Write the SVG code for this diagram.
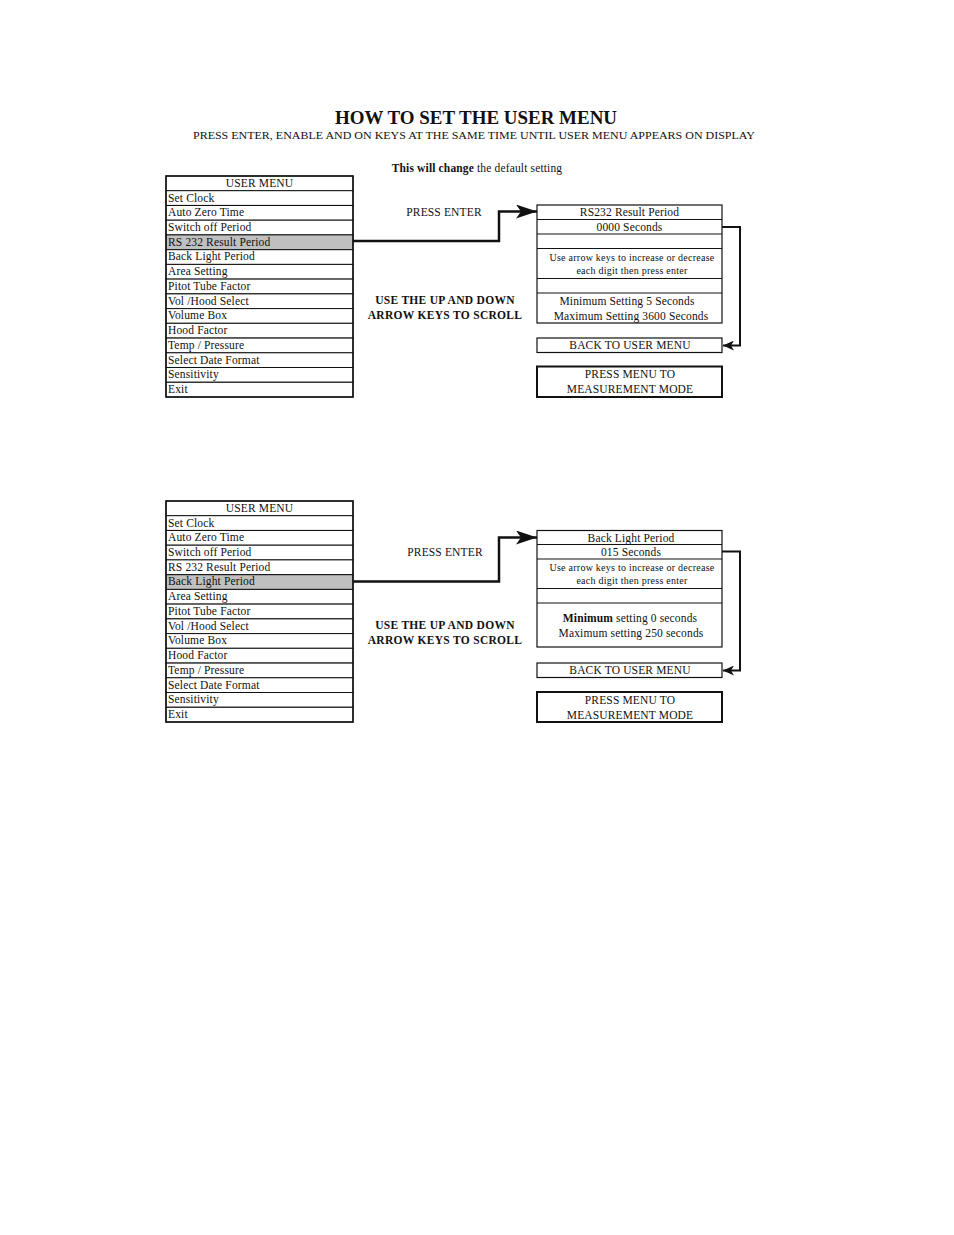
<svg xmlns="http://www.w3.org/2000/svg" width="954" height="1235" viewBox="0 0 954 1235">
<style>
text{font-family:"Liberation Serif","Times New Roman",serif;fill:#111}
.t{font-size:11.5px;letter-spacing:0.15px}
.c{text-anchor:middle}
.s{font-size:10px;letter-spacing:0.25px}
.b{font-weight:bold}
.bb{font-weight:bold;letter-spacing:0.3px}
.row{fill:#fff;stroke:#111;stroke-width:1}
.hl{fill:#c0c0c0;stroke:#111;stroke-width:1}
.box{fill:#fff;stroke:#111;stroke-width:1.2}
.ln{stroke:#111;stroke-width:1}
.thick{fill:#fff;stroke:#111;stroke-width:2}
.con{fill:none;stroke:#111;stroke-width:2.5}
.con2{fill:none;stroke:#111;stroke-width:2}
</style>
<defs>
<marker id="ah" markerWidth="12" markerHeight="10" refX="11" refY="5" orient="auto" markerUnits="userSpaceOnUse">
<path d="M0,0 L11,5 L0,10 L3,5 Z" fill="#111"/>
</marker>
<marker id="ah2" markerWidth="22" markerHeight="14" refX="21" refY="7" orient="auto" markerUnits="userSpaceOnUse">
<path d="M0,0 L21,7 L0,14 L5,7 Z" fill="#111"/>
</marker>
</defs>
<rect width="954" height="1235" fill="#fff"/>
<g id="title">
<text x="476" y="124" class="c b" font-size="18" textLength="282" lengthAdjust="spacingAndGlyphs">HOW TO SET THE USER MENU</text>
<text x="474" y="139" class="c" font-size="11" textLength="562" lengthAdjust="spacingAndGlyphs">PRESS ENTER, ENABLE AND ON KEYS AT THE SAME TIME UNTIL USER MENU APPEARS ON DISPLAY</text>
<text x="477" y="172" class="c t"><tspan class="b">This will change</tspan> the default setting</text>
</g>

<!-- Top menu -->
<g id="menu1">
<rect class="row" x="166" y="176" width="187" height="14.7"/>
<rect class="row" x="166" y="190.7" width="187" height="14.7"/>
<rect class="row" x="166" y="205.5" width="187" height="14.7"/>
<rect class="row" x="166" y="220.2" width="187" height="14.7"/>
<rect class="hl" x="166" y="234.9" width="187" height="14.7"/>
<rect class="row" x="166" y="249.7" width="187" height="14.7"/>
<rect class="row" x="166" y="264.4" width="187" height="14.7"/>
<rect class="row" x="166" y="279.1" width="187" height="14.7"/>
<rect class="row" x="166" y="293.9" width="187" height="14.7"/>
<rect class="row" x="166" y="308.6" width="187" height="14.7"/>
<rect class="row" x="166" y="323.3" width="187" height="14.7"/>
<rect class="row" x="166" y="338.1" width="187" height="14.7"/>
<rect class="row" x="166" y="352.8" width="187" height="14.7"/>
<rect class="row" x="166" y="367.5" width="187" height="14.7"/>
<rect class="row" x="166" y="382.3" width="187" height="14.7"/>
<rect x="166" y="176" width="187" height="221" fill="none" stroke="#111" stroke-width="1.5"/>
<text class="t c" x="259.5" y="187">USER MENU</text>
<text class="t" x="168" y="201.5">Set Clock</text>
<text class="t" x="168" y="216.2">Auto Zero Time</text>
<text class="t" x="168" y="231">Switch off Period</text>
<text class="t" x="168" y="245.7">RS 232 Result Period</text>
<text class="t" x="168" y="260.4">Back Light Period</text>
<text class="t" x="168" y="275.2">Area Setting</text>
<text class="t" x="168" y="289.9">Pitot Tube Factor</text>
<text class="t" x="168" y="304.6">Vol /Hood Select</text>
<text class="t" x="168" y="319.4">Volume Box</text>
<text class="t" x="168" y="334.1">Hood Factor</text>
<text class="t" x="168" y="348.8">Temp / Pressure</text>
<text class="t" x="168" y="363.6">Select Date Format</text>
<text class="t" x="168" y="378.3">Sensitivity</text>
<text class="t" x="168" y="393">Exit</text>
</g>

<g id="labels1">
<text class="t c" x="444" y="216">PRESS ENTER</text>
<text class="t c bb" x="445" y="304">USE THE UP AND DOWN</text>
<text class="t c bb" x="445" y="319">ARROW KEYS TO SCROLL</text>
</g>

<g id="setting1">
<rect class="box" x="537" y="205" width="185" height="118"/>
<line class="ln" x1="537" y1="219.5" x2="722" y2="219.5"/>
<line class="ln" x1="537" y1="234" x2="722" y2="234"/>
<line class="ln" x1="537" y1="248.5" x2="722" y2="248.5"/>
<line class="ln" x1="537" y1="278.5" x2="722" y2="278.5"/>
<line class="ln" x1="537" y1="293" x2="722" y2="293"/>
<text class="t c" x="629.5" y="216">RS232 Result Period</text>
<text class="t c" x="629.5" y="231">0000 Seconds</text>
<text class="s c" x="632" y="260.5">Use arrow keys to increase or decrease</text>
<text class="s c" x="632" y="274">each digit then press enter</text>
<text class="t c" x="627" y="304.5">Minimum Setting 5 Seconds</text>
<text class="t c" x="631" y="319.5">Maximum Setting 3600 Seconds</text>
</g>
<g id="back1">
<rect class="box" x="537" y="338" width="185" height="14.5"/>
<text class="t c" x="630" y="349">BACK TO USER MENU</text>
</g>
<g id="measure1">
<rect class="thick" x="537" y="366.5" width="185" height="30.5"/>
<text class="t c" x="630" y="378">PRESS MENU TO</text>
<text class="t c" x="630" y="393">MEASUREMENT MODE</text>
</g>

<!-- Bottom menu -->
<g id="menu2">
<rect class="row" x="166" y="501" width="187" height="14.7"/>
<rect class="row" x="166" y="515.7" width="187" height="14.7"/>
<rect class="row" x="166" y="530.5" width="187" height="14.7"/>
<rect class="row" x="166" y="545.2" width="187" height="14.7"/>
<rect class="row" x="166" y="559.9" width="187" height="14.7"/>
<rect class="hl" x="166" y="574.7" width="187" height="14.7"/>
<rect class="row" x="166" y="589.4" width="187" height="14.7"/>
<rect class="row" x="166" y="604.1" width="187" height="14.7"/>
<rect class="row" x="166" y="618.9" width="187" height="14.7"/>
<rect class="row" x="166" y="633.6" width="187" height="14.7"/>
<rect class="row" x="166" y="648.3" width="187" height="14.7"/>
<rect class="row" x="166" y="663.1" width="187" height="14.7"/>
<rect class="row" x="166" y="677.8" width="187" height="14.7"/>
<rect class="row" x="166" y="692.5" width="187" height="14.7"/>
<rect class="row" x="166" y="707.3" width="187" height="14.7"/>
<rect x="166" y="501" width="187" height="221" fill="none" stroke="#111" stroke-width="1.5"/>
<text class="t c" x="259.5" y="512">USER MENU</text>
<text class="t" x="168" y="526.5">Set Clock</text>
<text class="t" x="168" y="541.2">Auto Zero Time</text>
<text class="t" x="168" y="556">Switch off Period</text>
<text class="t" x="168" y="570.7">RS 232 Result Period</text>
<text class="t" x="168" y="585.4">Back Light Period</text>
<text class="t" x="168" y="600.2">Area Setting</text>
<text class="t" x="168" y="614.9">Pitot Tube Factor</text>
<text class="t" x="168" y="629.6">Vol /Hood Select</text>
<text class="t" x="168" y="644.4">Volume Box</text>
<text class="t" x="168" y="659.1">Hood Factor</text>
<text class="t" x="168" y="673.8">Temp / Pressure</text>
<text class="t" x="168" y="688.6">Select Date Format</text>
<text class="t" x="168" y="703.3">Sensitivity</text>
<text class="t" x="168" y="718">Exit</text>
</g>

<g id="labels2">
<text class="t c" x="445" y="556">PRESS ENTER</text>
<text class="t c bb" x="445" y="629">USE THE UP AND DOWN</text>
<text class="t c bb" x="445" y="644">ARROW KEYS TO SCROLL</text>
</g>

<g id="setting2">
<rect class="box" x="537" y="530.5" width="185" height="116.5"/>
<line class="ln" x1="537" y1="544.5" x2="722" y2="544.5"/>
<line class="ln" x1="537" y1="559" x2="722" y2="559"/>
<line class="ln" x1="537" y1="588.5" x2="722" y2="588.5"/>
<line class="ln" x1="537" y1="603" x2="722" y2="603"/>
<text class="t c" x="631" y="541.5">Back Light Period</text>
<text class="t c" x="631" y="556">015 Seconds</text>
<text class="s c" x="632" y="570.5">Use arrow keys to increase or decrease</text>
<text class="s c" x="632" y="584">each digit then press enter</text>
<text class="t c" x="630" y="622"><tspan class="b">Minimum</tspan> setting 0 seconds</text>
<text class="t c" x="631" y="637">Maximum setting 250 seconds</text>
</g>
<g id="back2">
<rect class="box" x="537" y="663" width="185" height="14.5"/>
<text class="t c" x="630" y="674">BACK TO USER MENU</text>
</g>
<g id="measure2">
<rect class="thick" x="537" y="692" width="185" height="30"/>
<text class="t c" x="630" y="703.5">PRESS MENU TO</text>
<text class="t c" x="630" y="718.5">MEASUREMENT MODE</text>
</g>

<g id="connectors">
<polyline class="con" points="353,241 499,241 499,211.5 537,211.5" marker-end="url(#ah2)"/>
<polyline class="con2" points="722,227 740,227 740,345.5 723,345.5" marker-end="url(#ah)"/>
<polyline class="con" points="353,581.5 499,581.5 499,537.5 537,537.5" marker-end="url(#ah2)"/>
<polyline class="con2" points="722,551.5 740,551.5 740,670.5 723,670.5" marker-end="url(#ah)"/>
</g>
</svg>
